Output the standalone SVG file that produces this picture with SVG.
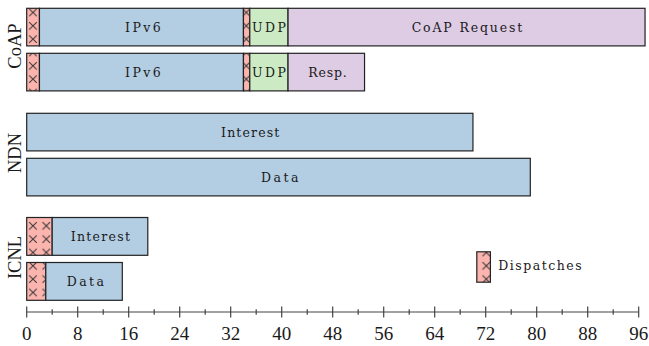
<svg xmlns="http://www.w3.org/2000/svg" width="649" height="346" viewBox="0 0 649 346">
  <style>
    .bar { stroke: #222; stroke-width: 1.2; }
    .ipv6 { fill: #b3cde3; }
    .udp { fill: #ccebc5; }
    .coap { fill: #decbe4; }
    .disp { fill: url(#xhatch); }
    .lbl { font-family: "DejaVu Serif", "Liberation Serif", serif; font-size: 12.5px; fill: #1a1a1a; text-anchor: middle; }
    .row { font-family: "Liberation Serif", "DejaVu Serif", serif; font-size: 18.5px; fill: #1a1a1a; text-anchor: middle; }
    .tick-lbl { font-family: "Liberation Serif", "DejaVu Serif", serif; font-size: 19px; fill: #1a1a1a; text-anchor: middle; }
    .axis { stroke: #444; stroke-width: 1.2; fill: none; }
  </style>
  <defs>
    <!-- red fill with a grid of small crosses for dispatch bytes -->
    <pattern id="xhatch" patternUnits="userSpaceOnUse" x="26.33" y="5.83" width="13.333" height="13.333">
      <rect width="13.333" height="13.333" fill="#fbb4ae"/>
      <path d="M2.9 2.9 L10.4 10.4 M10.4 2.9 L2.9 10.4" stroke="#333" stroke-width="1"/>
    </pattern>
  </defs>

  <!-- scale: x = 26.7 + 6.375 * bytes -->

  <!-- CoAP request -->
  <g id="coap-request">
    <rect class="bar disp" x="26.7" y="8.3" width="12.75" height="37.6"/>
    <rect class="bar ipv6" x="39.45" y="8.3" width="204" height="37.6"/>
    <rect class="bar disp" x="243.45" y="8.3" width="6.375" height="37.6"/>
    <rect class="bar udp" x="249.8" y="8.3" width="38.25" height="37.6"/>
    <rect class="bar coap" x="288.05" y="8.3" width="357" height="37.6"/>
    <text class="lbl" x="142.9" y="31.6" textLength="35.7">IPv6</text>
    <text class="lbl" x="269" y="31.6" textLength="34">UDP</text>
    <text class="lbl" x="467" y="31.6" textLength="110.6">CoAP Request</text>
  </g>

  <!-- CoAP response -->
  <g id="coap-response">
    <rect class="bar disp" x="26.7" y="53.3" width="12.75" height="37.6"/>
    <rect class="bar ipv6" x="39.45" y="53.3" width="204" height="37.6"/>
    <rect class="bar disp" x="243.45" y="53.3" width="6.375" height="37.6"/>
    <rect class="bar udp" x="249.8" y="53.3" width="38.25" height="37.6"/>
    <rect class="bar coap" x="288.05" y="53.3" width="76.5" height="37.6"/>
    <text class="lbl" x="142.9" y="76.6" textLength="35.7">IPv6</text>
    <text class="lbl" x="269" y="76.6" textLength="34">UDP</text>
    <text class="lbl" x="327.5" y="76.6" textLength="38.4">Resp.</text>
  </g>

  <!-- NDN interest -->
  <g id="ndn-interest">
    <rect class="bar ipv6" x="26.7" y="113.3" width="446.25" height="37.6"/>
    <text class="lbl" x="250.2" y="136.6" textLength="58.3">Interest</text>
  </g>

  <!-- NDN data -->
  <g id="ndn-data">
    <rect class="bar ipv6" x="26.7" y="158.3" width="503.6" height="37.6"/>
    <text class="lbl" x="279.7" y="181.6" textLength="37.3">Data</text>
  </g>

  <!-- ICNL interest -->
  <g id="icnl-interest">
    <rect class="bar disp" x="26.7" y="217.5" width="25.5" height="37.8"/>
    <rect class="bar ipv6" x="52.2" y="217.5" width="95.6" height="37.8"/>
    <text class="lbl" x="100.3" y="241" textLength="59.3">Interest</text>
  </g>

  <!-- ICNL data -->
  <g id="icnl-data">
    <rect class="bar disp" x="26.7" y="262.5" width="19.1" height="37.8"/>
    <rect class="bar ipv6" x="45.8" y="262.5" width="76.5" height="37.8"/>
    <text class="lbl" x="85.3" y="286" textLength="37.3">Data</text>
  </g>

  <!-- legend -->
  <g id="legend">
    <rect class="bar disp" x="476.8" y="251.8" width="13.6" height="30.4"/>
    <text class="lbl" x="498.3" y="270.2" style="text-anchor:start" textLength="83.3">Dispatches</text>
  </g>

  <!-- row labels -->
  <g id="row-labels">
    <text class="row" transform="translate(20.5,46) rotate(-90)">CoAP</text>
    <text class="row" transform="translate(20.5,153) rotate(-90)">NDN</text>
    <text class="row" transform="translate(20.5,257.5) rotate(-90)">ICNL</text>
  </g>

  <!-- byte axis -->
  <g id="axis">
    <path class="axis" d="M26.7 312 H638.7"/>
    <path class="axis" d="M26.7 306.5V317.5 M77.7 306.5V317.5 M128.7 306.5V317.5 M179.7 306.5V317.5 M230.7 306.5V317.5 M281.7 306.5V317.5 M332.7 306.5V317.5 M383.7 306.5V317.5 M434.7 306.5V317.5 M485.7 306.5V317.5 M536.7 306.5V317.5 M587.7 306.5V317.5 M638.7 306.5V317.5"/>
    <path class="axis" d="M52.2 309.3V314.7 M103.2 309.3V314.7 M154.2 309.3V314.7 M205.2 309.3V314.7 M256.2 309.3V314.7 M307.2 309.3V314.7 M358.2 309.3V314.7 M409.2 309.3V314.7 M460.2 309.3V314.7 M511.2 309.3V314.7 M562.2 309.3V314.7 M613.2 309.3V314.7"/>
    <text class="tick-lbl" x="26.7" y="339.5">0</text>
    <text class="tick-lbl" x="77.7" y="339.5">8</text>
    <text class="tick-lbl" x="128.7" y="339.5">16</text>
    <text class="tick-lbl" x="179.7" y="339.5">24</text>
    <text class="tick-lbl" x="230.7" y="339.5">32</text>
    <text class="tick-lbl" x="281.7" y="339.5">40</text>
    <text class="tick-lbl" x="332.7" y="339.5">48</text>
    <text class="tick-lbl" x="383.7" y="339.5">56</text>
    <text class="tick-lbl" x="434.7" y="339.5">64</text>
    <text class="tick-lbl" x="485.7" y="339.5">72</text>
    <text class="tick-lbl" x="536.7" y="339.5">80</text>
    <text class="tick-lbl" x="587.7" y="339.5">88</text>
    <text class="tick-lbl" x="638.7" y="339.5">96</text>
  </g>
</svg>
